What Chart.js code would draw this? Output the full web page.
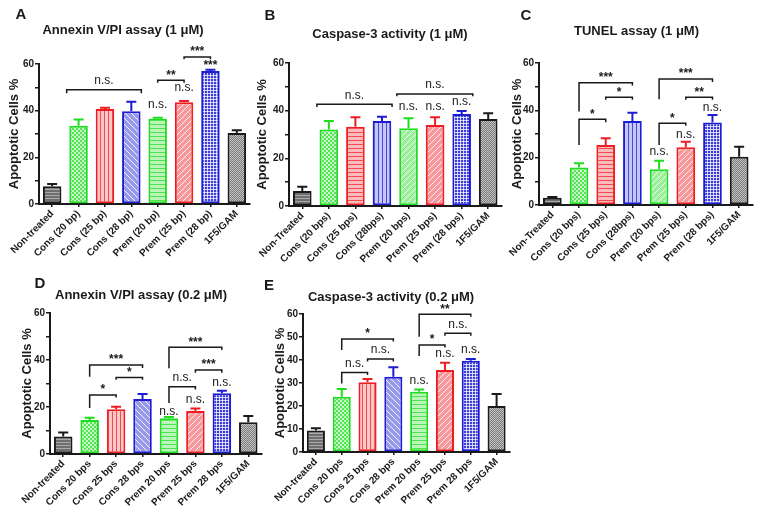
<!DOCTYPE html>
<html><head><meta charset="utf-8">
<script src="https://cdn.jsdelivr.net/npm/chart.js@4.4.1/dist/chart.umd.min.js"></script>
<style>
html,body{margin:0;padding:0;background:#fff;}
body{width:762px;height:516px;position:relative;overflow:hidden;}
canvas{position:absolute;}
</style></head><body>
<canvas id="cA" width="256" height="268" style="left:0px;top:0px"></canvas>
<canvas id="cB" width="256" height="268" style="left:250px;top:0px"></canvas>
<canvas id="cC" width="262" height="268" style="left:500px;top:0px"></canvas>
<canvas id="cD" width="266" height="248" style="left:0px;top:268px"></canvas>
<canvas id="cE" width="250" height="248" style="left:262px;top:268px"></canvas>
<script>
// ---------- categories ----------
const labelsA = ['Non-treated','Cons (20 bp)','Cons (25 bp)','Cons (28 bp)','Prem (20 bp)','Prem (25 bp)','Prem (28 bp)','1F5/GAM'];
const labelsBC = ['Non-Treated','Cons (20 bps)','Cons (25 bps)','Cons (28bps)','Prem (20 bps)','Prem (25 bps)','Prem (28 bps)','1F5/GAM'];
const labelsDE = ['Non-treated','Cons 20 bps','Cons 25 bps','Cons 28 bps','Prem 20 bps','Prem 25 bps','Prem 28 bps','1F5/GAM'];

// ---------- values (mean, upper error) ----------
const annexin1Mean = [7.6, 33.5, 40.7, 39.8, 36.5, 43.6, 57.0, 30.4];
const annexin1Err  = [1.0, 2.7, 0.6, 4.0, 0.5, 0.5, 0.5, 1.2];
const caspase1Mean = [6.3, 32.1, 33.3, 35.7, 32.6, 34.0, 38.6, 36.5];
const caspase1Err  = [1.8, 3.6, 3.9, 1.8, 4.2, 3.2, 1.3, 2.4];
const tunel1Mean   = [3.1, 15.8, 25.3, 35.5, 15.1, 24.4, 34.9, 20.4];
const tunel1Err    = [0.3, 1.8, 2.9, 3.5, 3.6, 2.3, 3.1, 4.2];
const annexin02Mean = [7.4, 14.5, 19.0, 23.4, 15.2, 18.3, 25.8, 13.5];
const annexin02Err  = [1.7, 0.9, 1.1, 2.1, 0.5, 1.1, 1.1, 2.7];
const caspase02Mean = [9.3, 24.0, 30.3, 32.7, 26.2, 35.7, 39.7, 20.0];
const caspase02Err  = [1.0, 3.4, 1.4, 4.1, 1.0, 3.1, 0.7, 5.2];

// ---------- significance brackets: [from, to, level, leftLegEnd, rightLegEnd, text] ----------
const annexin1Brackets = [[0.55,3.38,49,47.5,47.5,'n.s.'],[4,5,53,52,52,'**'],[5,6,63,62,62,'***']];
const annexin1Marks = [[4,42,'n.s.'],[5,49.3,'n.s.'],[6,60.5,'***']];
const caspase1Brackets = [[0.55,3.38,42.7,41.5,41.5,'n.s.'],[3.56,6.42,47,46,46,'n.s.']];
const caspase1Marks = [[4,41.1,'n.s.'],[5,41.1,'n.s.'],[6,43.2,'n.s.']];
const tunel1Brackets = [[1,3,51.7,39.5,50.5,'***'],[2,3,45.5,44.5,44.5,'*'],[1,2,36.2,25.3,35,'*'],
                        [4,6,53.2,44.7,52,'***'],[5,6,45.5,44.5,44.5,'**'],[4,5,34.5,25.3,33.5,'*']];
const tunel1Marks = [[4,22.1,'n.s.'],[5,29.3,'n.s.'],[6,40.6,'n.s.']];
const annexin02Brackets = [[1,3,37.9,32.9,36.6,'***'],[2,3,32.6,31.6,31.6,'*'],[1,2,25.1,19.6,24,'*'],
                           [4,6,45.4,36.5,44.3,'***'],[5,6,35.7,34.6,34.6,'***'],[4,5,28.6,21.7,27.5,'n.s.']];
const annexin02Marks = [[4,17.6,'n.s.'],[5,22.5,'n.s.'],[6,29.8,'n.s.']];
const caspase02Brackets = [[1,3,49.1,44.3,48,'*'],[2,3,40.4,39.3,39.3,'n.s.'],[1,2,34.6,29.8,33.5,'n.s.'],
                           [4,6,59.9,50.1,58.8,'**'],[5,6,51.6,50.5,50.5,'n.s.'],[4,5,46.5,41.7,45.4,'*']];
const caspase02Marks = [[4,30.6,'n.s.'],[5,42.2,'n.s.'],[6,43.9,'n.s.']];

// ---------- styling ----------
const FONT = '"Liberation Sans", Arial, sans-serif';
Chart.defaults.font.family = FONT;
Chart.defaults.color = '#111';
const INK = '#1a1a1a';
const GREEN = '#1fdc1f', RED = '#ee1d23', BLUE = '#1c1cd2';
const borderCols = [INK, GREEN, RED, BLUE, GREEN, RED, BLUE, INK];
const patADE = ['ghl','check','vlines','diagb','hlines','diag','grid','gchk'];
const patBC  = ['ghl','check','hlines','vlines','diag','diag','grid','gchk'];

function tint(hex, a){
  const r=parseInt(hex.slice(1,3),16), g=parseInt(hex.slice(3,5),16), b=parseInt(hex.slice(5,7),16);
  const m = v => Math.round(255-(255-v)*a);
  return 'rgb('+m(r)+','+m(g)+','+m(b)+')';
}
function makePattern(kind, col){
  const c=document.createElement('canvas');
  let s=4;
  if(kind==='diag'||kind==='diagb') s=6;
  if(kind==='grid'||kind==='ghl') s=3;
  if(kind==='gchk') s=2;
  c.width=c.height=s;
  const g=c.getContext('2d');
  switch(kind){
    case 'check':
      g.fillStyle=tint(col,0.25); g.fillRect(0,0,s,s);
      g.fillStyle=tint(col,0.75); g.fillRect(0,0,2,2); g.fillRect(2,2,2,2); break;
    case 'vlines':
      g.fillStyle=tint(col,0.25); g.fillRect(0,0,s,s);
      g.fillStyle=tint(col,0.8); g.fillRect(0,0,1,s); break;
    case 'hlines':
      g.fillStyle=tint(col,0.3); g.fillRect(0,0,s,s);
      g.fillStyle=tint(col,0.8); g.fillRect(0,0,s,1); break;
    case 'diag':
    case 'diagb':
      g.fillStyle=tint(col,0.45); g.fillRect(0,0,s,s);
      g.strokeStyle='rgba(255,255,255,0.85)'; g.lineWidth=1;
      g.beginPath();
      if(kind==='diag'){ g.moveTo(-1,s+1); g.lineTo(s+1,-1); g.moveTo(-1,1); g.lineTo(1,-1); g.moveTo(s-1,s+1); g.lineTo(s+1,s-1); }
      else { g.moveTo(-1,-1); g.lineTo(s+1,s+1); g.moveTo(s-1,-1); g.lineTo(s+1,1); g.moveTo(-1,s-1); g.lineTo(1,s+1); }
      g.stroke(); break;
    case 'grid':
      g.fillStyle=tint(col,0.85); g.fillRect(0,0,s,s);
      g.fillStyle='rgba(255,255,255,0.75)'; g.fillRect(0,0,s,1); g.fillRect(0,0,1,s); break;
    case 'ghl':
      g.fillStyle='#6e6e6e'; g.fillRect(0,0,s,s);
      g.fillStyle='#a9a9a9'; g.fillRect(0,0,s,1); break;
    case 'gchk':
      g.fillStyle='#7a7a7a'; g.fillRect(0,0,s,s);
      g.fillStyle='#c4c4c4'; g.fillRect(0,0,1,1); g.fillRect(1,1,1,1); break;
  }
  return g.createPattern(c,'repeat');
}

function drawMark(g, t, x, y){
  const star = t.indexOf('*')>=0;
  g.font = (star ? 'bold 12px ' : '12px ') + FONT;
  g.fillStyle = INK; g.textAlign='center'; g.textBaseline='middle';
  g.fillText(t, x, y + (star ? 3 : -1));
}

function makeAnnot(p){
  return {
    id:'annot'+p.id,
    afterDatasetsDraw(chart){
      const g=chart.ctx, xs=chart.scales.x, ys=chart.scales.y;
      const meta=chart.getDatasetMeta(0);
      g.save();
      g.lineCap='butt';
      meta.data.forEach((bar,i)=>{
        const top=ys.getPixelForValue(p.mean[i]+p.err[i]);
        g.strokeStyle=borderCols[i]; g.lineWidth=2;
        g.beginPath(); g.moveTo(bar.x,bar.y); g.lineTo(bar.x,top);
        g.moveTo(bar.x-5,top); g.lineTo(bar.x+5,top); g.stroke();
      });
      g.strokeStyle=INK; g.lineWidth=1.5;
      p.brackets.forEach(([a,b,lv,l,r,t])=>{
        const X1=xs.getPixelForValue(a), X2=xs.getPixelForValue(b), Y=ys.getPixelForValue(lv);
        g.beginPath(); g.moveTo(X1,ys.getPixelForValue(l)); g.lineTo(X1,Y); g.lineTo(X2,Y); g.lineTo(X2,ys.getPixelForValue(r)); g.stroke();
        drawMark(g,t,(X1+X2)/2,Y-8);
      });
      p.marks.forEach(([x,v,t])=> drawMark(g,t,xs.getPixelForValue(x),ys.getPixelForValue(v)));
      g.restore();
    },
    afterDraw(chart){
      const g=chart.ctx;
      g.save(); g.fillStyle=INK; g.textBaseline='middle';
      g.font='bold 13px '+FONT; g.textAlign='center';
      g.fillText(p.title,p.tx,p.ty);
      g.font='bold 15px '+FONT;
      g.fillText(p.letter,p.lx,p.ly);
      g.restore();
    }
  };
}

function makeChart(p){
  const ctx=document.getElementById(p.id).getContext('2d');
  const fills=p.patterns.map((k,i)=>makePattern(k, borderCols[i]));
  new Chart(ctx,{
    type:'bar',
    data:{labels:p.labels,datasets:[{data:p.mean,backgroundColor:fills,borderColor:borderCols,borderWidth:2,
      borderSkipped:false,barPercentage:0.7,categoryPercentage:1}]},
    options:{
      responsive:false, animation:false, events:[],
      layout:{padding:{top:p.padTop,right:p.padRight,left:0,bottom:0}},
      plugins:{legend:{display:false},tooltip:{enabled:false}},
      scales:{
        x:{
          afterFit:s=>{s.height=p.xH;},
          ticks:{minRotation:45,maxRotation:45,autoSkip:false,padding:1,color:INK,font:{size:10,weight:'bold'}},
          grid:{drawOnChartArea:false,offset:false,tickLength:3,color:INK,lineWidth:1.5},
          border:{display:true,color:INK,width:2}
        },
        y:{
          min:0,max:60,
          afterFit:s=>{s.width=p.yW;},
          ticks:{stepSize:10,padding:1,color:INK,font:{size:10,weight:'bold'},
            callback:v=> (p.allTicks || v%20===0) ? v : ''},
          grid:{drawOnChartArea:false,tickLength:4,color:INK,lineWidth:1.5},
          border:{display:true,color:INK,width:2},
          title:{display:true,text:'Apoptotic Cells %',color:INK,font:{size:13,weight:'bold'},padding:{top:p.yTitlePad,bottom:0}}
        }
      }
    },
    plugins:[makeAnnot(p)]
  });
}

makeChart({id:'cA',labels:labelsA,mean:annexin1Mean,err:annexin1Err,brackets:annexin1Brackets,marks:annexin1Marks,
  title:'Annexin V/PI assay (1 \u03bcM)',letter:'A',tx:123,ty:30,lx:21,ly:15,
  yW:39,xH:64,padTop:64,padRight:6,yTitlePad:7,allTicks:false,patterns:patADE});
makeChart({id:'cB',labels:labelsBC,mean:caspase1Mean,err:caspase1Err,brackets:caspase1Brackets,marks:caspase1Marks,
  title:'Caspase-3 activity (1 \u03bcM)',letter:'B',tx:140,ty:34,lx:20,ly:16,
  yW:39,xH:62,padTop:63,padRight:4.5,yTitlePad:5,allTicks:false,patterns:patBC});
makeChart({id:'cC',labels:labelsBC,mean:tunel1Mean,err:tunel1Err,brackets:tunel1Brackets,marks:tunel1Marks,
  title:'TUNEL assay (1 \u03bcM)',letter:'C',tx:136.5,ty:31,lx:26,ly:16,
  yW:39,xH:63,padTop:63,padRight:9.5,yTitlePad:10,allTicks:false,patterns:patBC});
makeChart({id:'cD',labels:labelsDE,mean:annexin02Mean,err:annexin02Err,brackets:annexin02Brackets,marks:annexin02Marks,
  title:'Annexin V/PI assay (0.2 \u03bcM)',letter:'D',tx:141,ty:27,lx:40,ly:16,
  yW:50,xH:62,padTop:45,padRight:4.5,yTitlePad:19.5,allTicks:false,patterns:patADE});
makeChart({id:'cE',labels:labelsDE,mean:caspase02Mean,err:caspase02Err,brackets:caspase02Brackets,marks:caspase02Marks,
  title:'Caspase-3 activity (0.2 \u03bcM)',letter:'E',tx:129,ty:29,lx:7,ly:18,
  yW:41,xH:64,padTop:46,padRight:2.5,yTitlePad:11,allTicks:true,patterns:patADE});
</script>
</body></html>
